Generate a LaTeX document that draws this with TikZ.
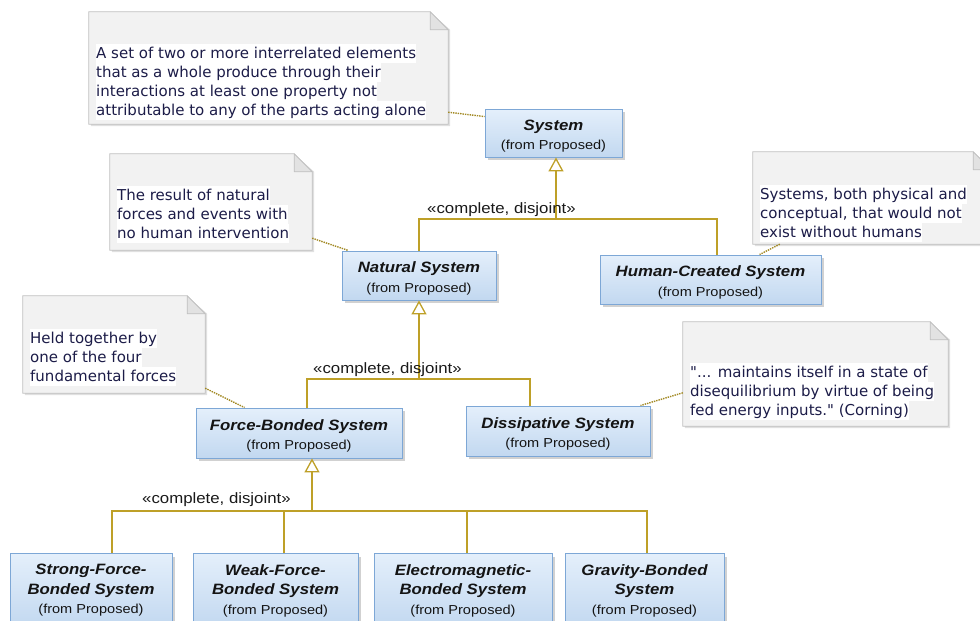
\documentclass[tikz,border=0pt]{standalone}
\usepackage{fontspec}
\setmainfont{Liberation Sans}
\newfontfamily\boxfont[FakeStretch=1.12]{Liberation Sans}
\newfontfamily\notefont{DejaVu Sans}
\usetikzlibrary{arrows.meta,shadows,calc}
\definecolor{gold}{RGB}{190,160,40}
\definecolor{boxtop}{RGB}{228,239,251}
\definecolor{boxbot}{RGB}{194,216,240}
\definecolor{boxline}{RGB}{125,167,214}
\definecolor{notefill}{RGB}{242,242,242}
\definecolor{noteline}{RGB}{192,192,192}
\definecolor{foldfill}{RGB}{226,226,226}
\definecolor{notetext}{RGB}{28,28,72}
\newcommand{\clsname}[1]{{\fontsize{15}{19.5}\selectfont\bfseries\itshape #1}}
\newcommand{\clsfirst}[1]{{\fontsize{15}{19.5}\selectfont\bfseries\itshape\rule{0pt}{17pt}#1}}
\newcommand{\fromp}{{\fontsize{13}{19.5}\selectfont (from Proposed)}}
\newcommand{\hlt}[1]{{\setlength{\fboxsep}{0pt}\colorbox{white}{\vrule width 0pt height 14pt depth 5pt #1}}}
\begin{document}
\begin{tikzpicture}[x=1pt,y=-1pt,
  cls/.style={draw=boxline, line width=0.9pt, top color=boxtop, bottom color=boxbot,
    drop shadow={shadow xshift=3pt, shadow yshift=-3pt, fill=black!40, opacity=.45},
    align=center, font=\boxfont\fontsize{13}{19.5}\selectfont, text=black!92, inner sep=0pt},
  notebox/.style={inner sep=0pt, draw=none},
  notetxt/.style={anchor=north west, align=left, inner sep=0pt, text=notetext,
    font=\notefont\fontsize{15}{19}\selectfont},
  gen/.style={draw=gold, line width=1.3pt},
  genhead/.style={draw=gold, line width=1.3pt, -{Triangle[open, length=14pt, width=15pt, fill=white]}},
  notelink/.style={draw=gold!85!black, line width=1.4pt, densely dotted},
  stereo/.style={font=\boxfont\fontsize{15}{16}\selectfont, text=black!90, inner sep=0pt}
]
\useasboundingbox (0,0) rectangle (980,621);
\clip (0,0) rectangle (980,621);

% ---------- notes ----------
\node[notebox, minimum width=359, minimum height=112] (n1) at (268.5,68) {};
\node[notebox, minimum width=202, minimum height=96] (n2) at (211,202) {};
\node[notebox, minimum width=238, minimum height=92] (n3) at (872,198) {};
\node[notebox, minimum width=182, minimum height=97] (n4) at (114,344.5) {};
\node[notebox, minimum width=265, minimum height=104] (n5) at (815.5,374) {};
\foreach \n in {n1,n2,n3,n4,n5}{
  \fill[black!12] ([xshift=2pt,yshift=-2pt]\n.north west) -- ([xshift=-16pt,yshift=-2pt]\n.north east)
     -- ([xshift=2pt,yshift=-18pt]\n.north east) -- ([xshift=2pt,yshift=-2pt]\n.south east)
     -- ([xshift=2pt,yshift=-2pt]\n.south west) -- cycle;
  \draw[noteline, fill=notefill, line width=0.8pt] (\n.north west) -- ([xshift=-18pt]\n.north east)
     -- ([yshift=-18pt]\n.north east) -- (\n.south east) -- (\n.south west) -- cycle;
  \draw[noteline, fill=foldfill, line width=0.8pt, line join=round] ([xshift=-18pt]\n.north east)
     -- ([xshift=-18pt,yshift=-18pt]\n.north east) -- ([yshift=-18pt]\n.north east) -- cycle;
}
\node[notetxt] (t1) at (96,44) {\hlt{A set of two or more interrelated elements}\\
  \hlt{that as a whole produce through their}\\
  \hlt{interactions at least one property not}\\
  \hlt{attributable to any of the parts acting alone}};
\node[notetxt] (t2) at (117,186) {\hlt{The result of natural}\\
  \hlt{forces and events with}\\
  \hlt{no human intervention}};
\node[notetxt] (t3) at (760,185) {\hlt{Systems, both physical and}\\
  \hlt{conceptual, that would not}\\
  \hlt{exist without humans}};
\node[notetxt] (t4) at (30,329) {\hlt{Held together by}\\
  \hlt{one of the four}\\
  \hlt{fundamental forces}};
\node[notetxt] (t5) at (690,363) {\hlt{"... maintains itself in a state of}\\
  \hlt{disequilibrium by virtue of being}\\
  \hlt{fed energy inputs." (Corning)}};

% ---------- classes ----------
\node[cls, minimum width=137, minimum height=48] (sys) at (553.5,133) {\clsfirst{System}\\\fromp};
\node[cls, minimum width=154, minimum height=49] (nat) at (419,275.5) {\clsfirst{Natural System}\\\fromp};
\node[cls, minimum width=221, minimum height=49] (hum) at (710.5,279.5) {\clsfirst{Human-Created System}\\\fromp};
\node[cls, minimum width=206, minimum height=50] (fb) at (299,433) {\clsfirst{Force-Bonded System}\\\fromp};
\node[cls, minimum width=184, minimum height=50] (dis) at (558,431) {\clsfirst{Dissipative System}\\\fromp};
\node[cls, minimum width=162, minimum height=74] (sf) at (91,590.5) {\clsname{Strong-Force-}\\\clsname{Bonded System}\\\fromp};
\node[cls, minimum width=165, minimum height=74] (wf) at (275.5,590.5) {\clsname{Weak-Force-}\\\clsname{Bonded System}\\\fromp};
\node[cls, minimum width=178, minimum height=74] (em) at (463,590.5) {\clsname{Electromagnetic-}\\\clsname{Bonded System}\\\fromp};
\node[cls, minimum width=159, minimum height=74] (gr) at (644.5,590.5) {\clsname{Gravity-Bonded}\\\clsname{System}\\\fromp};

% ---------- generalization sets ----------
\coordinate (j1) at (556,219);
\coordinate (j2) at (419,379);
\coordinate (j3) at (312,511);
\draw[gen] (nat.north) |- (j1);
\draw[gen] ($(hum.north)+(6.5,0)$) |- (j1);
\draw[genhead] (j1) -- (j1 |- sys.south);
\node[stereo, anchor=south west] (l1) at (427,217) {«complete, disjoint»};

\draw[gen] ($(fb.north)+(8,0)$) |- (j2);
\draw[gen] ($(dis.north)+(-28,0)$) |- (j2);
\draw[genhead] (j2) -- (nat.south);
\node[stereo, anchor=south west] (l2) at (313,377) {«complete, disjoint»};

\draw[gen] ($(sf.north)+(21,0)$) |- (j3);
\draw[gen] ($(wf.north)+(8.5,0)$) |- (j3);
\draw[gen] ($(em.north)+(4,0)$) |- (j3);
\draw[gen] ($(gr.north)+(2.5,0)$) |- (j3);
\draw[genhead] (j3) -- (j3 |- fb.south);
\node[stereo, anchor=south west] (l3) at (142,507) {«complete, disjoint»};

% ---------- note links ----------
\draw[notelink] ($(n1.south east)+(0,-12)$) -- ($(sys.north west)+(0,8)$);
\draw[notelink] ($(n2.south east)+(0,-12)$) -- ($(nat.north west)+(7,0)$);
\draw[notelink] ($(n3.south west)+(27,0)$) -- ($(hum.north west)+(160,0)$);
\draw[notelink] ($(n4.south east)+(0,-5)$) -- ($(fb.north west)+(49,0)$);
\draw[notelink] ($(n5.north west)+(0,71)$) -- ($(dis.north east)+(-10,0)$);
\end{tikzpicture}
\end{document}
